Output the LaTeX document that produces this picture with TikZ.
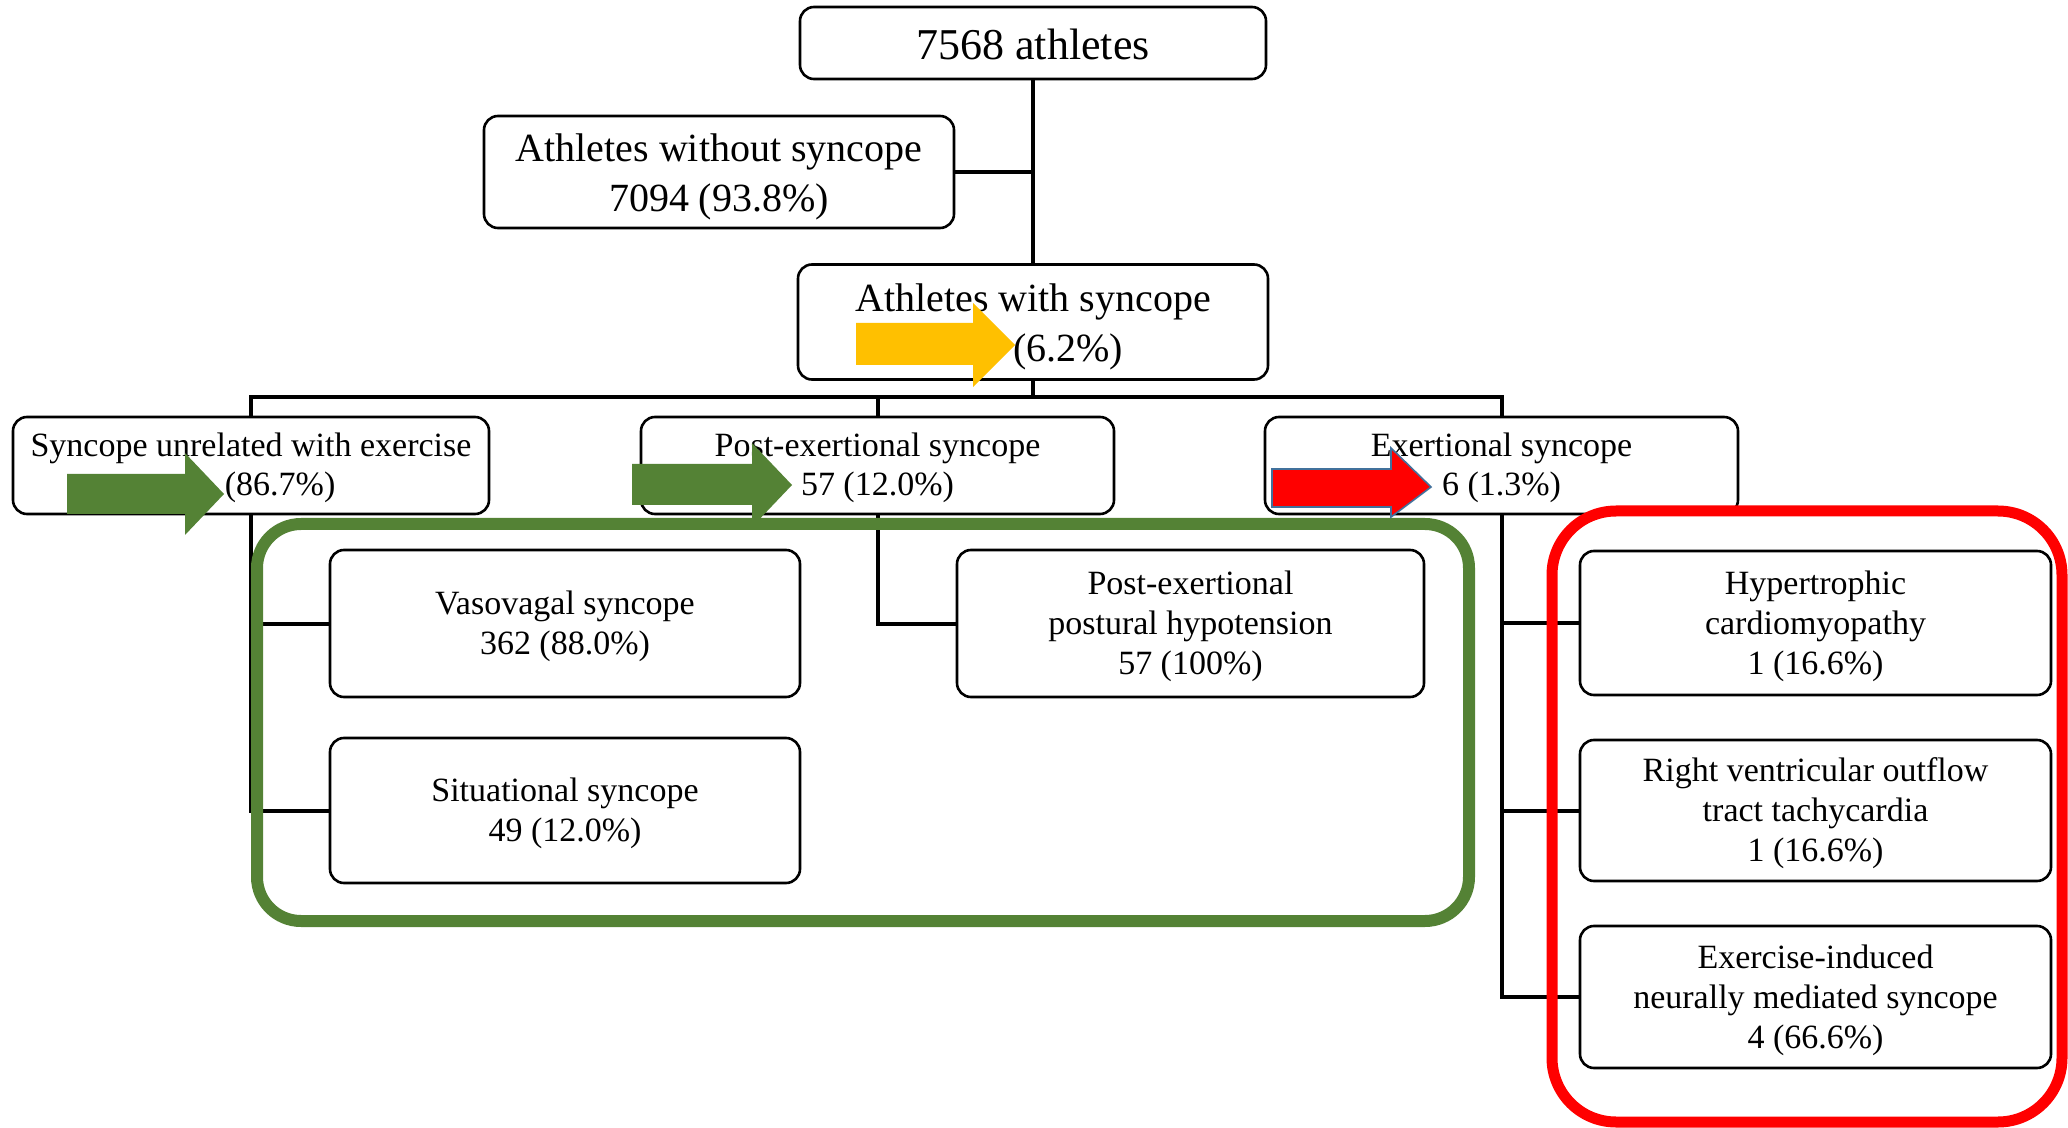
\documentclass[tikz,border=0pt]{standalone}
\usepackage{fontspec}
\setmainfont{Liberation Serif}
\definecolor{grn}{HTML}{548235}
\definecolor{ylw}{HTML}{FFC000}
\definecolor{rd}{HTML}{FF0000}
\definecolor{bluedge}{HTML}{41719C}
\newcommand{\lift}[1]{\rule{0pt}{#1}}
\tikzset{
 box/.style={draw, rounded corners=7pt, line width=1.3pt, fill=white, align=center, inner sep=0pt},
 conn/.style={line width=2pt},
 lvlzero/.style={font=\fontsize{22}{26}\selectfont},
 lvlone/.style={font=\fontsize{20}{25}\selectfont},
 lvltwo/.style={font=\fontsize{17}{19.5}\selectfont},
 lvlthree/.style={font=\fontsize{17}{20}\selectfont},
}
\begin{document}
\begin{tikzpicture}[x=0.5pt,y=-0.5pt]
\useasboundingbox (0,0) rectangle (2068,1128);
% nodes
\node[box,lvlzero,minimum width=233pt,minimum height=36pt] (top) at (1033,43) {\lift{17pt}7568 athletes};
\node[box,lvlone,minimum width=235pt,minimum height=56pt] (without) at (719,172) {\lift{18.9pt}Athletes without syncope\\7094 (93.8\%)};
\node[box,lvlone,minimum width=235pt,minimum height=57.5pt] (with) at (1033,322) {\lift{18.9pt}Athletes with syncope\\\phantom{474} (6.2\%)};
\coordinate (bus) at (1033,397);
\node[box,lvltwo,minimum width=238pt,minimum height=48.5pt] (unrel) at (251,465.5) {\lift{14.2pt}Syncope unrelated with exercise\\\phantom{411} (86.7\%)};
\node[box,lvltwo,minimum width=236.5pt,minimum height=48.5pt] (post) at (877.5,465.5) {\lift{14.2pt}Post-exertional syncope\\57 (12.0\%)};
\node[box,lvltwo,minimum width=236.5pt,minimum height=48.5pt] (exer) at (1501.5,465.5) {\lift{14.2pt}Exertional syncope\\6 (1.3\%)};
\node[box,lvlthree,minimum width=235pt,minimum height=73.5pt] (vaso) at (565,623.5) {\lift{15pt}Vasovagal syncope\\362 (88.0\%)};
\node[box,lvlthree,minimum width=235pt,minimum height=72.5pt] (situ) at (565,810.5) {\lift{15pt}Situational syncope\\49 (12.0\%)};
\node[box,lvlthree,minimum width=233.5pt,minimum height=73.5pt] (pph) at (1190.5,623.5) {\lift{15pt}Post-exertional\\postural hypotension\\57 (100\%)};
\node[box,lvlthree,minimum width=235.5pt,minimum height=72pt] (hcm) at (1815.5,623) {\lift{15pt}Hypertrophic\\cardiomyopathy\\1 (16.6\%)};
\node[box,lvlthree,minimum width=235.5pt,minimum height=70.5pt] (rvot) at (1815.5,810.5) {\lift{15pt}Right ventricular outflow\\tract tachycardia\\1 (16.6\%)};
\node[box,lvlthree,minimum width=235.5pt,minimum height=71pt] (eins) at (1815.5,997) {\lift{15pt}Exercise-induced\\neurally mediated syncope\\4 (66.6\%)};
% connectors
\draw[conn] (top.south) -- (with.north);
\draw[conn] (without.east) -- (without.east -| top.south);
\draw[conn] (with.south) -- (bus);
\draw[conn] (unrel.north) |- (bus) -| (exer.north);
\draw[conn] (post.north) -- (post.north |- bus);
\draw[conn] (unrel.south) |- (vaso.west);
\draw[conn] (unrel.south) |- (situ.west);
\draw[conn] (post.south) |- (pph.west);
\draw[conn] (exer.south) |- (hcm.west);
\draw[conn] (exer.south) |- (rvot.west);
\draw[conn] (exer.south) |- (eins.west);
% highlight frames
\draw[grn, line width=6pt, rounded corners=22pt] (257,524) rectangle (1469,921);
\draw[rd, line width=5.5pt, rounded corners=32pt] (1552,511) rectangle (2062,1122);
% block arrows
\fill[ylw] (856,323) -- (973,323) -- (973,303) -- (1015,345) -- (973,387) -- (973,365) -- (856,365) -- cycle;
\fill[grn] (67,474) -- (185,474) -- (185,453) -- (224,494) -- (185,535) -- (185,514) -- (67,514) -- cycle;
\fill[grn] (632,464) -- (752,464) -- (752,443) -- (792,485) -- (752,527) -- (752,505) -- (632,505) -- cycle;
\filldraw[fill=rd, draw=bluedge, line width=0.8pt] (1272,469) -- (1391,469) -- (1391,448) -- (1431,487) -- (1391,517) -- (1391,507) -- (1272,507) -- cycle;
\end{tikzpicture}
\end{document}
